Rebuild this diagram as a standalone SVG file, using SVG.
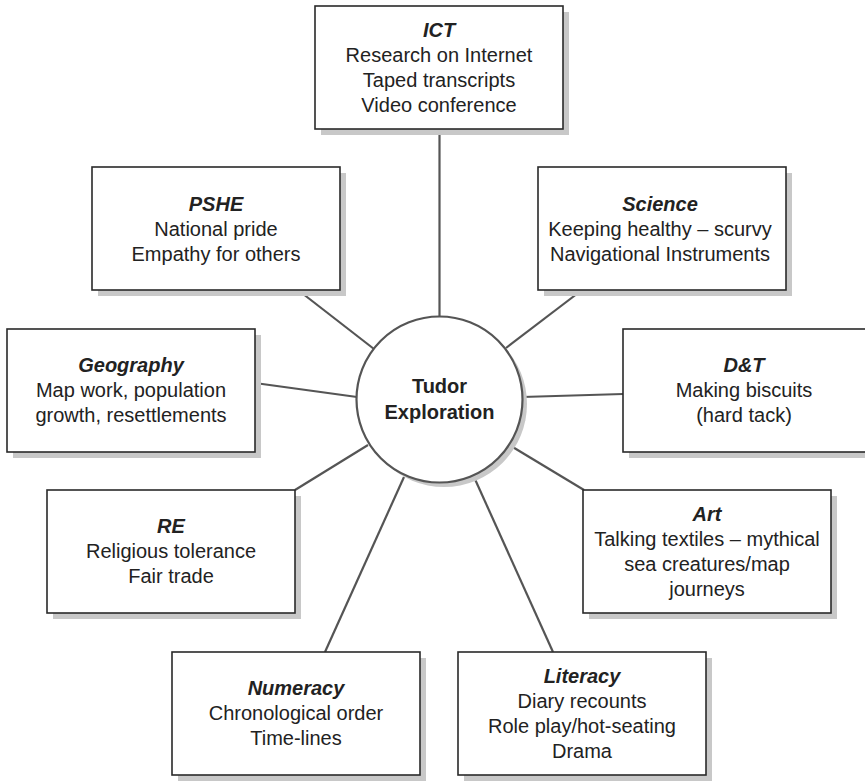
<svg xmlns="http://www.w3.org/2000/svg" width="865" height="781" viewBox="0 0 865 781">
<style>
.shadow{fill:#c8c8c8;stroke:none}
.box{fill:#fff;stroke:#2a2a2a;stroke-width:1.6}
.conn line{stroke:#555;stroke-width:2.2;stroke-linecap:butt}
text{font-family:"Liberation Sans",Arial,Helvetica,sans-serif;font-size:20px;fill:#222;text-anchor:middle}
.t{font-weight:bold;font-style:italic}
.c{font-weight:bold;font-size:20px}
</style>
<rect width="865" height="781" fill="#fff"/>
<g class="conn" id="connectors">
<line x1="439.5" y1="129" x2="439.5" y2="317"/>
<line x1="298" y1="290" x2="374" y2="349"/>
<line x1="582" y1="290" x2="506" y2="348"/>
<line x1="255" y1="383" x2="357" y2="397"/>
<line x1="522" y1="397" x2="623" y2="394"/>
<line x1="295" y1="490" x2="368" y2="445"/>
<line x1="511" y1="446" x2="584" y2="490"/>
<line x1="325" y1="652" x2="404" y2="477"/>
<line x1="474" y1="477" x2="553" y2="652"/>
</g>
<g id="ict">
<rect class="shadow" x="321" y="12" width="248" height="123"/>
<rect class="box" x="315" y="6" width="248" height="123"/>
<text x="439" y="37" class="t">ICT</text>
<text x="439" y="62">Research on Internet</text>
<text x="439" y="87">Taped transcripts</text>
<text x="439" y="112">Video conference</text>
</g>
<g id="pshe">
<rect class="shadow" x="98" y="173" width="248" height="123"/>
<rect class="box" x="92" y="167" width="248" height="123"/>
<text x="216" y="210.5" class="t">PSHE</text>
<text x="216" y="235.5">National pride</text>
<text x="216" y="260.5">Empathy for others</text>
</g>
<g id="science">
<rect class="shadow" x="544" y="173" width="248" height="123"/>
<rect class="box" x="538" y="167" width="248" height="123"/>
<text x="660" y="210.5" class="t">Science</text>
<text x="660" y="235.5">Keeping healthy – scurvy</text>
<text x="660" y="260.5">Navigational Instruments</text>
</g>
<g id="geography">
<rect class="shadow" x="13" y="335" width="248" height="123"/>
<rect class="box" x="7" y="329" width="248" height="123"/>
<text x="131" y="372" class="t">Geography</text>
<text x="131" y="397">Map work, population</text>
<text x="131" y="422">growth, resettlements</text>
</g>
<g id="dt">
<rect class="shadow" x="629" y="335" width="248" height="123"/>
<rect class="box" x="623" y="329" width="248" height="123"/>
<text x="744" y="372" class="t">D&amp;T</text>
<text x="744" y="397">Making biscuits</text>
<text x="744" y="422">(hard tack)</text>
</g>
<g id="re">
<rect class="shadow" x="53" y="496" width="248" height="123"/>
<rect class="box" x="47" y="490" width="248" height="123"/>
<text x="171" y="533" class="t">RE</text>
<text x="171" y="558">Religious tolerance</text>
<text x="171" y="583">Fair trade</text>
</g>
<g id="art">
<rect class="shadow" x="589" y="496" width="248" height="123"/>
<rect class="box" x="583" y="490" width="248" height="123"/>
<text x="707" y="521" class="t">Art</text>
<text x="707" y="546">Talking textiles – mythical</text>
<text x="707" y="571">sea creatures/map</text>
<text x="707" y="596">journeys</text>
</g>
<g id="numeracy">
<rect class="shadow" x="178" y="658" width="248" height="123"/>
<rect class="box" x="172" y="652" width="248" height="123"/>
<text x="296" y="695" class="t">Numeracy</text>
<text x="296" y="720">Chronological order</text>
<text x="296" y="745">Time-lines</text>
</g>
<g id="literacy">
<rect class="shadow" x="464" y="658" width="248" height="123"/>
<rect class="box" x="458" y="652" width="248" height="123"/>
<text x="582" y="683" class="t">Literacy</text>
<text x="582" y="708">Diary recounts</text>
<text x="582" y="733">Role play/hot-seating</text>
<text x="582" y="758">Drama</text>
</g>
<g id="center">
<circle cx="444" cy="404" r="83" fill="#c8c8c8"/>
<circle cx="439.5" cy="399.5" r="83" fill="#fff" stroke="#555" stroke-width="2.2"/>
<text x="439.5" y="393" class="c">Tudor</text>
<text x="439.5" y="419" class="c">Exploration</text>
</g>
</svg>
